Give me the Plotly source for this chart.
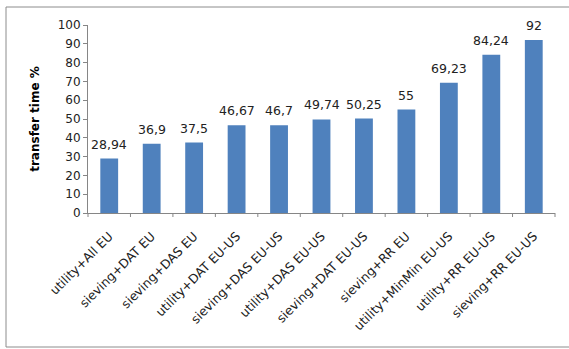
import plotly.graph_objects as go

# Transfer time per scheduling strategy (percent)
categories = [
    "utility+All EU",
    "sieving+DAT EU",
    "sieving+DAS EU",
    "utility+DAT EU-US",
    "sieving+DAS EU-US",
    "utility+DAS EU-US",
    "sieving+DAT EU-US",
    "sieving+RR EU",
    "utility+MinMin EU-US",
    "utility+RR EU-US",
    "sieving+RR EU-US",
]
transfer_time = [28.94, 36.9, 37.5, 46.67, 46.7, 49.74, 50.25, 55, 69.23, 84.24, 92]
y_ticks = [0, 10, 20, 30, 40, 50, 60, 70, 80, 90, 100]


def decimal_comma(v):
    return format(v, "g").replace(".", ",")


W, H = 569, 349
L, R, T, B = 88, 14, 25, 136
pw, ph = W - L - R, H - T - B

fig = go.Figure(
    go.Bar(
        x=categories,
        y=transfer_time,
        marker=dict(color="#4F81BD", line=dict(width=0)),
        hoverinfo="x+y",
    )
)

# value labels above each bar
for c, v in zip(categories, transfer_time):
    fig.add_annotation(
        x=c, y=v, text=decimal_comma(v), showarrow=False,
        yanchor="bottom", yshift=5,
        font=dict(family="DejaVu Sans", size=12.5, color="#222222"),
    )

# chart frame around the whole figure
def px_x(p):
    return (p - L) / pw


def px_y(p):
    return (H - B - p) / ph


fig.add_shape(
    type="rect", xref="paper", yref="paper",
    x0=px_x(6), x1=px_x(580), y0=px_y(347), y1=px_y(7),
    line=dict(color="#8c8c8c", width=1), fillcolor="rgba(0,0,0,0)",
)

fig.update_layout(
    width=W, height=H,
    margin=dict(l=L, r=R, t=T, b=B),
    paper_bgcolor="white", plot_bgcolor="white",
    bargap=0.58,
    showlegend=False,
    xaxis=dict(
        type="category",
        tickangle=-45,
        tickfont=dict(family="DejaVu Sans", size=12.5, color="#222222"),
        ticklabelstandoff=10,
        showline=True, linecolor="#868686", linewidth=1,
        ticks="", showgrid=False,
    ),
    yaxis=dict(
        range=[0, 100],
        tickvals=y_ticks,
        ticks="outside", ticklen=4, tickcolor="#868686",
        tickfont=dict(family="DejaVu Sans", size=12, color="#222222"),
        showline=True, linecolor="#868686", linewidth=1,
        showgrid=False, zeroline=False,
        title=dict(
            text="<b>transfer time %</b>",
            font=dict(family="DejaVu Sans", size=12, color="#000000"),
            standoff=15,
        ),
    ),
)

# category boundary tick marks below the x axis
n = len(categories)
for i in range(n + 1):
    fig.add_shape(
        type="line", xref="paper", yref="paper",
        x0=i / n, x1=i / n, y0=0, y1=-4 / ph,
        line=dict(color="#868686", width=1),
    )

fig.write_html("out.html")
